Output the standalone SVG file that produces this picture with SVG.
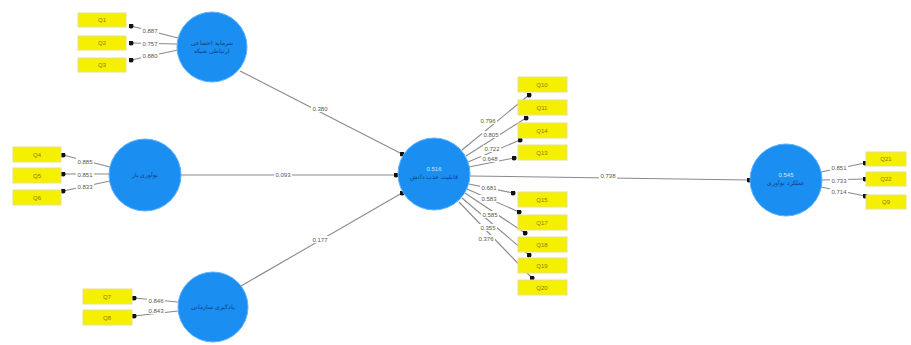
<svg xmlns="http://www.w3.org/2000/svg" width="911" height="345" viewBox="0 0 911 345">
<defs>
<marker id="dot" viewBox="0 0 10 10" refX="5" refY="5" markerWidth="5" markerHeight="5" markerUnits="userSpaceOnUse">
<circle cx="5" cy="5" r="5" fill="#111"/>
</marker>
<style>
.bg{fill:#fff}
.lv{fill:#1b8ef2;stroke:#5bb0ff;stroke-width:1}
.mv{fill:#f5f000;stroke:#e6e090;stroke-width:1}
.ln{stroke:#8a8a8a;stroke-width:1.1;fill:none;marker-end:url(#dot)}
.t{font-family:"Liberation Sans",Arial,sans-serif;font-size:6px;fill:#555;text-anchor:middle}
.bt{font-family:"Liberation Sans",Arial,sans-serif;font-size:6px;fill:#8a7a00;text-anchor:middle}
.ct{font-family:"Liberation Sans","Noto Sans",sans-serif;font-size:6px;fill:#0b3d7a;text-anchor:middle}
.wt{font-family:"Liberation Sans",Arial,sans-serif;font-size:6px;fill:#cfe6ff;text-anchor:middle}
.lb{fill:#fff}
</style>
</defs>
<rect class="bg" width="911" height="345"/>
<g id="connectors">
<line class="ln" x1="240" y1="71" x2="402" y2="154"/>
<line class="ln" x1="181" y1="175" x2="396" y2="175"/>
<line class="ln" x1="241" y1="286" x2="402" y2="193"/>
<line class="ln" x1="470" y1="176" x2="749" y2="180"/>
<rect class="lb" x="311" y="105" width="18" height="7"/><text class="t" x="320" y="111">0.380</text>
<rect class="lb" x="274" y="172" width="18" height="7"/><text class="t" x="283" y="177">0.093</text>
<rect class="lb" x="311" y="236" width="18" height="7"/><text class="t" x="320" y="242">0.177</text>
<rect class="lb" x="599" y="173" width="18" height="7"/><text class="t" x="608" y="178">0.738</text>
<line class="ln" x1="178" y1="38" x2="131" y2="26"/>
<line class="ln" x1="177" y1="44" x2="131" y2="43"/>
<line class="ln" x1="178" y1="50" x2="131" y2="60"/>
<rect class="lb" x="141" y="27" width="18" height="7"/><text class="t" x="150" y="33">0.887</text>
<rect class="lb" x="141" y="40" width="18" height="7"/><text class="t" x="150" y="46">0.757</text>
<rect class="lb" x="141" y="52" width="18" height="7"/><text class="t" x="150" y="58">0.880</text>
<line class="ln" x1="110" y1="167" x2="63" y2="155"/>
<line class="ln" x1="109" y1="174" x2="63" y2="174"/>
<line class="ln" x1="110" y1="181" x2="63" y2="191"/>
<rect class="lb" x="76" y="158" width="18" height="7"/><text class="t" x="85" y="164">0.885</text>
<rect class="lb" x="76" y="171" width="18" height="7"/><text class="t" x="85" y="177">0.851</text>
<rect class="lb" x="76" y="183" width="18" height="7"/><text class="t" x="85" y="189">0.833</text>
<line class="ln" x1="178" y1="302" x2="134" y2="298"/>
<line class="ln" x1="178" y1="311" x2="134" y2="316"/>
<rect class="lb" x="147" y="297" width="18" height="7"/><text class="t" x="156" y="303">0.846</text>
<rect class="lb" x="147" y="307" width="18" height="7"/><text class="t" x="156" y="313">0.843</text>
<line class="ln" x1="462" y1="150" x2="529" y2="95"/>
<line class="ln" x1="466" y1="156" x2="526" y2="118"/>
<line class="ln" x1="468" y1="162" x2="520" y2="140"/>
<line class="ln" x1="469" y1="167" x2="514" y2="158"/>
<rect class="lb" x="479" y="117" width="18" height="7"/><text class="t" x="488" y="123">0.796</text>
<rect class="lb" x="482" y="131" width="18" height="7"/><text class="t" x="491" y="137">0.805</text>
<rect class="lb" x="483" y="145" width="18" height="7"/><text class="t" x="492" y="151">0.722</text>
<rect class="lb" x="481" y="155" width="18" height="7"/><text class="t" x="490" y="161">0.648</text>
<line class="ln" x1="469" y1="184" x2="513" y2="193"/>
<line class="ln" x1="467" y1="189" x2="519" y2="212"/>
<line class="ln" x1="465" y1="193" x2="525" y2="233"/>
<line class="ln" x1="462" y1="198" x2="529" y2="255"/>
<line class="ln" x1="459" y1="202" x2="532" y2="278"/>
<rect class="lb" x="480" y="184" width="18" height="7"/><text class="t" x="489" y="190">0.681</text>
<rect class="lb" x="480" y="195" width="18" height="7"/><text class="t" x="489" y="201">0.583</text>
<rect class="lb" x="481" y="211" width="18" height="7"/><text class="t" x="490" y="217">0.585</text>
<rect class="lb" x="479" y="224" width="18" height="7"/><text class="t" x="488" y="230">0.355</text>
<rect class="lb" x="477" y="235" width="18" height="7"/><text class="t" x="486" y="241">0.376</text>
<line class="ln" x1="821" y1="172" x2="865" y2="163"/>
<line class="ln" x1="822" y1="180" x2="865" y2="179"/>
<line class="ln" x1="821" y1="187" x2="865" y2="196"/>
<rect class="lb" x="830" y="164" width="18" height="7"/><text class="t" x="839" y="170">0.851</text>
<rect class="lb" x="830" y="177" width="18" height="7"/><text class="t" x="839" y="183">0.733</text>
<rect class="lb" x="830" y="188" width="18" height="7"/><text class="t" x="839" y="194">0.714</text>
</g>
<g id="n-topleft">
<circle class="lv" cx="212" cy="47" r="35"/>
<text class="ct" x="212" y="45">سرمایه اجتماعی</text>
<text class="ct" x="212" y="53">ارتباطی شبکه</text>
</g>
<g id="n-midleft">
<circle class="lv" cx="145" cy="175" r="36"/>
<text class="ct" x="145" y="177">نوآوری باز</text>
</g>
<g id="n-botleft">
<circle class="lv" cx="213" cy="307" r="35"/>
<text class="ct" x="213" y="309">یادگیری سازمانی</text>
</g>
<g id="n-center">
<circle class="lv" cx="434" cy="174" r="36"/>
<text class="wt" x="434" y="171">0.516</text>
<text class="ct" x="434" y="179">قابلیت جذب دانش</text>
</g>
<g id="n-right">
<circle class="lv" cx="786" cy="180" r="36"/>
<text class="wt" x="786" y="177">0.545</text>
<text class="ct" x="786" y="185">عملکرد نوآوری</text>
</g>
<g id="i-q1"><rect class="mv" x="78" y="13" width="48" height="14"/><text class="bt" x="102" y="22">Q1</text></g>
<g id="i-q2"><rect class="mv" x="78" y="36" width="48" height="14"/><text class="bt" x="102" y="45">Q2</text></g>
<g id="i-q3"><rect class="mv" x="78" y="58" width="48" height="14"/><text class="bt" x="102" y="67">Q3</text></g>
<g id="i-q4"><rect class="mv" x="13" y="147" width="48" height="15"/><text class="bt" x="37" y="157">Q4</text></g>
<g id="i-q5"><rect class="mv" x="13" y="168" width="48" height="15"/><text class="bt" x="37" y="178">Q5</text></g>
<g id="i-q6"><rect class="mv" x="13" y="190" width="48" height="15"/><text class="bt" x="37" y="200">Q6</text></g>
<g id="i-q7"><rect class="mv" x="83" y="289" width="49" height="15"/><text class="bt" x="107" y="299">Q7</text></g>
<g id="i-q8"><rect class="mv" x="83" y="310" width="49" height="15"/><text class="bt" x="107" y="320">Q8</text></g>
<g id="i-q10"><rect class="mv" x="518" y="77" width="49" height="15"/><text class="bt" x="542" y="87">Q10</text></g>
<g id="i-q11"><rect class="mv" x="518" y="100" width="49" height="15"/><text class="bt" x="542" y="110">Q11</text></g>
<g id="i-q14"><rect class="mv" x="518" y="123" width="49" height="15"/><text class="bt" x="542" y="133">Q14</text></g>
<g id="i-q13"><rect class="mv" x="518" y="145" width="49" height="15"/><text class="bt" x="542" y="155">Q13</text></g>
<g id="i-q15"><rect class="mv" x="518" y="192" width="49" height="15"/><text class="bt" x="542" y="202">Q15</text></g>
<g id="i-q17"><rect class="mv" x="518" y="215" width="49" height="15"/><text class="bt" x="542" y="225">Q17</text></g>
<g id="i-q18"><rect class="mv" x="518" y="237" width="49" height="15"/><text class="bt" x="542" y="247">Q18</text></g>
<g id="i-q19"><rect class="mv" x="518" y="258" width="49" height="15"/><text class="bt" x="542" y="268">Q19</text></g>
<g id="i-q20"><rect class="mv" x="518" y="280" width="49" height="15"/><text class="bt" x="542" y="290">Q20</text></g>
<g id="i-q21"><rect class="mv" x="866" y="152" width="40" height="14"/><text class="bt" x="886" y="161">Q21</text></g>
<g id="i-q22"><rect class="mv" x="866" y="172" width="40" height="14"/><text class="bt" x="886" y="181">Q22</text></g>
<g id="i-q9"><rect class="mv" x="866" y="195" width="40" height="14"/><text class="bt" x="886" y="204">Q9</text></g>
</svg>
